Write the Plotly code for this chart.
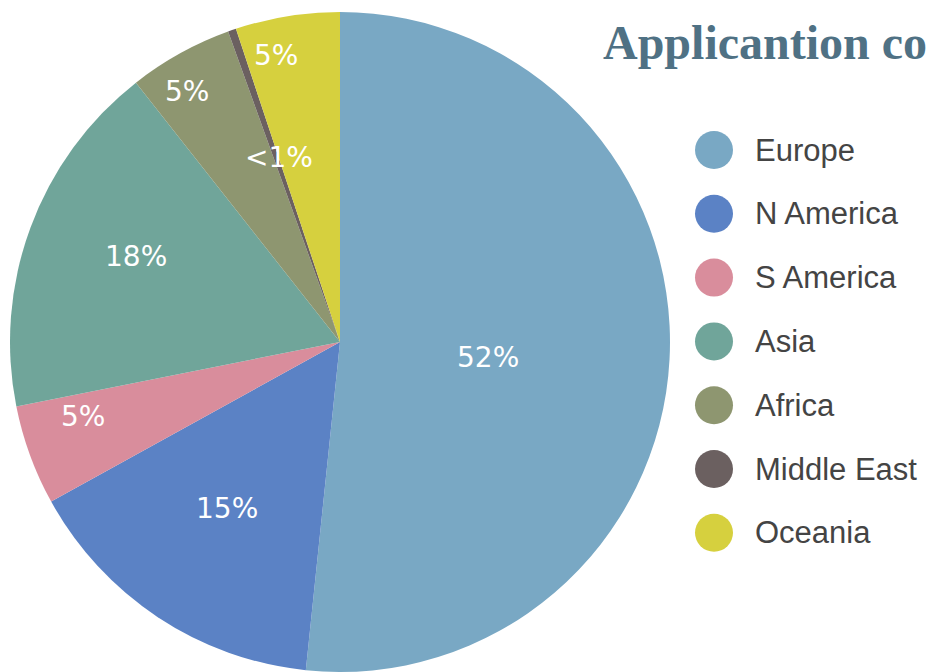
import math
import plotly.graph_objects as go

# ---- data ----
regions = ["Europe", "N America", "S America", "Asia", "Africa", "Middle East", "Oceania"]
shares = [51.6, 15.3, 4.9, 17.5, 5.1, 0.4, 5.1]
slice_labels = ["52%", "15%", "5%", "18%", "5%", "<1%", "5%"]
title_text = "Applicantion countries"

# ---- styles ----
colors = ["#79a8c4", "#5b82c5", "#d98d9c", "#70a59a", "#8e9670", "#6b6060", "#d6d03e"]
W, H = 926, 672
CX, CY, R = 340, 342, 330
label_radius = [0.45, 0.61, 0.81, 0.67, 0.89, 0.59, 0.89]
label_angle_shift = [3.0, 0.5, 4.0, 2.4, -2.3, 0.7, -3.3]

fig = go.Figure()
fig.add_trace(go.Pie(
    values=shares, labels=regions, sort=False, direction="clockwise", rotation=0,
    marker=dict(colors=colors, line=dict(width=0)),
    textinfo="none", showlegend=False, hoverinfo="label+percent",
    domain=dict(x=[(CX - R) / W, (CX + R) / W], y=[(H - CY - R) / H, (H - CY + R) / H]),
))

annotations = []
shapes = []
total = sum(shares)
cum = 0.0
for v, txt, rf, sh in zip(shares, slice_labels, label_radius, label_angle_shift):
    mid = (cum + v / 2) / total * 2 * math.pi + math.radians(sh)
    cum += v
    px = CX + R * rf * math.sin(mid)
    py = CY - R * rf * math.cos(mid)
    annotations.append(dict(
        x=px / W, y=1 - py / H, xref="paper", yref="paper", text=txt, showarrow=False,
        xanchor="center", yanchor="middle",
        font=dict(family="DejaVu Sans", size=28, color="white"),
    ))

# manual legend with circles
leg_x, leg_y0, leg_dy, leg_r = 714, 150, 63.8, 19
for i, (name, col) in enumerate(zip(regions, colors)):
    yy = leg_y0 + i * leg_dy
    shapes.append(dict(
        type="circle", xref="paper", yref="paper",
        x0=(leg_x - leg_r) / W, x1=(leg_x + leg_r) / W,
        y0=1 - (yy + leg_r) / H, y1=1 - (yy - leg_r) / H,
        fillcolor=col, line=dict(width=0),
    ))
    annotations.append(dict(
        x=753 / W, y=1 - yy / H, xref="paper", yref="paper", text=name, showarrow=False,
        xanchor="left", yanchor="middle",
        font=dict(family="Liberation Sans", size=31, color="#444444"),
    ))

annotations.append(dict(
    x=601 / W, y=1 - 42 / H, xref="paper", yref="paper", text="<b>" + title_text + "</b>",
    showarrow=False, xanchor="left", yanchor="middle",
    font=dict(family="Liberation Serif", size=48, color="#4f7184"),
))

fig.update_layout(
    width=W, height=H, margin=dict(l=0, r=0, t=0, b=0),
    paper_bgcolor="white", plot_bgcolor="white",
    annotations=annotations, shapes=shapes,
)

fig.write_html("out.html")
